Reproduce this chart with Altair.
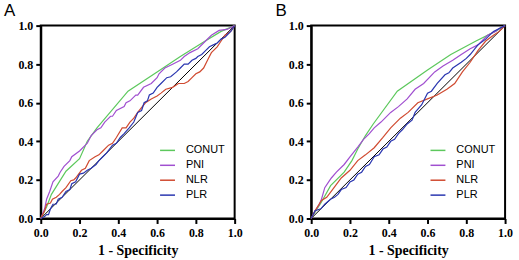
import altair as alt
import pandas as pd

markers = ["CONUT", "PNI", "NLR", "PLR"]
colors = ["#5cc85c", "#a04fd0", "#d04a30", "#2a36b0"]
tick_values = [0.0, 0.2, 0.4, 0.6, 0.8, 1.0]
diag_x = [0.0, 1.0]
diag_y = [0.0, 1.0]

# Panel A
a_conut_x = [0, 0.03, 0.055, 0.13, 0.2, 0.24, 0.29, 0.45, 0.6, 0.72, 0.84, 0.93, 1.0]
a_conut_y = [0, 0.06, 0.125, 0.245, 0.31, 0.40, 0.47, 0.66, 0.76, 0.84, 0.915, 0.97, 1.0]
a_pni_x = [0, 0.02, 0.03, 0.046, 0.063, 0.09, 0.1, 0.12, 0.15, 0.16, 0.2, 0.23, 0.24, 0.26, 0.29, 0.31, 0.33, 0.36, 0.37, 0.39,
           0.43, 0.44, 0.46, 0.49, 0.5, 0.53, 0.57, 0.6, 0.61, 0.64, 0.68, 0.72, 0.74, 0.77, 0.81, 0.85, 0.88, 0.92, 0.96, 1.0]
a_pni_y = [0, 0.05, 0.10, 0.14, 0.19, 0.22, 0.24, 0.27, 0.30, 0.32, 0.35, 0.38, 0.39, 0.43, 0.46, 0.47, 0.50, 0.53, 0.53, 0.56,
           0.58, 0.60, 0.61, 0.64, 0.64, 0.68, 0.70, 0.73, 0.75, 0.78, 0.80, 0.82, 0.84, 0.86, 0.88, 0.92, 0.95, 0.975, 0.98, 1.0]
a_nlr_x = [0, 0.02, 0.03, 0.05, 0.06, 0.08, 0.097, 0.11, 0.13, 0.155, 0.17, 0.18, 0.21, 0.23, 0.25, 0.28, 0.3,
           0.32, 0.35, 0.37, 0.39, 0.42, 0.44, 0.46, 0.48, 0.5, 0.54, 0.57, 0.6, 0.62, 0.645, 0.68, 0.71, 0.74,
           0.76, 0.78, 0.8, 0.82, 0.84, 0.86, 0.88, 0.91, 0.93, 0.95, 0.98, 1.0]
a_nlr_y = [0, 0.04, 0.074, 0.08, 0.10, 0.11, 0.125, 0.14, 0.16, 0.196, 0.20, 0.21, 0.25, 0.26, 0.30, 0.32, 0.33,
           0.35, 0.38, 0.39, 0.42, 0.47, 0.47, 0.50, 0.52, 0.55, 0.60, 0.62, 0.635, 0.65, 0.67, 0.68, 0.70, 0.70,
           0.71, 0.73, 0.75, 0.76, 0.78, 0.82, 0.86, 0.89, 0.92, 0.95, 0.97, 1.0]
a_plr_x = [0, 0.02, 0.03, 0.04, 0.05, 0.063, 0.08, 0.09, 0.11, 0.13, 0.15, 0.16, 0.18, 0.2, 0.22, 0.24, 0.26,
           0.285, 0.3, 0.32, 0.34, 0.37, 0.39, 0.41, 0.43, 0.456, 0.48, 0.5, 0.52, 0.533, 0.55, 0.56, 0.58, 0.6,
           0.62, 0.65, 0.67, 0.7, 0.72, 0.74, 0.76, 0.78, 0.8, 0.81, 0.83, 0.85, 0.87, 0.89, 0.91, 0.93, 0.95,
           0.96, 0.98, 1.0]
a_plr_y = [0, 0.01, 0.02, 0.02, 0.05, 0.074, 0.075, 0.10, 0.11, 0.14, 0.15, 0.18, 0.19, 0.23, 0.235, 0.25, 0.26,
           0.28, 0.30, 0.32, 0.34, 0.38, 0.39, 0.42, 0.44, 0.47, 0.50, 0.55, 0.56, 0.60, 0.61, 0.64, 0.65, 0.68,
           0.70, 0.73, 0.735, 0.76, 0.78, 0.80, 0.80, 0.82, 0.83, 0.84, 0.85, 0.87, 0.89, 0.90, 0.91, 0.93, 0.94,
           0.95, 0.97, 1.0]

# Panel B
b_conut_x = [0, 0.03, 0.05, 0.1, 0.17, 0.21, 0.24, 0.28, 0.32, 0.444, 0.6, 0.72, 0.85, 0.95, 1.0]
b_conut_y = [0, 0.05, 0.08, 0.17, 0.24, 0.30, 0.36, 0.43, 0.49, 0.66, 0.77, 0.85, 0.92, 0.97, 1.0]
b_pni_x = [0, 0.02, 0.04, 0.053, 0.07, 0.09, 0.104, 0.13, 0.17, 0.2, 0.24, 0.27, 0.3, 0.325, 0.36,
           0.41, 0.45, 0.495, 0.536, 0.58, 0.637, 0.68, 0.73, 0.774, 0.82, 0.86, 0.91, 0.95, 0.97, 1.0]
b_pni_y = [0, 0.04, 0.07, 0.10, 0.16, 0.19, 0.21, 0.24, 0.28, 0.32, 0.37, 0.41, 0.44, 0.47, 0.50,
           0.55, 0.58, 0.62, 0.67, 0.70, 0.76, 0.79, 0.82, 0.85, 0.88, 0.90, 0.95, 0.97, 0.985, 1.0]
b_nlr_x = [0, 0.02, 0.053, 0.08, 0.11, 0.155, 0.2, 0.24, 0.28, 0.325, 0.37, 0.41, 0.46, 0.5, 0.55,
           0.6, 0.65, 0.7, 0.74, 0.78, 0.82, 0.86, 0.9, 0.94, 0.97, 1.0]
b_nlr_y = [0, 0.04, 0.093, 0.11, 0.15, 0.21, 0.25, 0.30, 0.33, 0.367, 0.42, 0.47, 0.52, 0.55, 0.60,
           0.62, 0.64, 0.67, 0.70, 0.76, 0.81, 0.87, 0.92, 0.95, 0.97, 1.0]
b_plr_x = [0, 0.02, 0.05, 0.07, 0.1, 0.12, 0.138, 0.155, 0.18, 0.2, 0.22, 0.24, 0.26, 0.28, 0.3, 0.325, 0.35,
           0.37, 0.39, 0.41, 0.43, 0.45, 0.47, 0.495, 0.52, 0.536, 0.57, 0.6, 0.62, 0.65, 0.69, 0.71, 0.73,
           0.774, 0.8, 0.82, 0.86, 0.9, 0.94, 1.0]
b_plr_y = [0, 0.04, 0.05, 0.074, 0.10, 0.11, 0.125, 0.15, 0.16, 0.19, 0.20, 0.23, 0.24, 0.27, 0.28, 0.32, 0.33,
           0.36, 0.37, 0.40, 0.41, 0.44, 0.46, 0.49, 0.51, 0.55, 0.59, 0.65, 0.66, 0.70, 0.745, 0.755, 0.78,
           0.81, 0.83, 0.85, 0.90, 0.93, 0.97, 1.0]


def build(series):
    rows = []
    for name, xs, ys in series:
        for i, (x, y) in enumerate(zip(xs, ys)):
            rows.append({"marker": name, "x": x, "y": y, "i": i})
    return pd.DataFrame(rows)


df_a = build([("CONUT", a_conut_x, a_conut_y), ("PNI", a_pni_x, a_pni_y),
              ("NLR", a_nlr_x, a_nlr_y), ("PLR", a_plr_x, a_plr_y)])
df_b = build([("CONUT", b_conut_x, b_conut_y), ("PNI", b_pni_x, b_pni_y),
              ("NLR", b_nlr_x, b_nlr_y), ("PLR", b_plr_x, b_plr_y)])
df_diag = pd.DataFrame({"x": diag_x, "y": diag_y})

xscale = alt.Scale(domain=[0, 1], nice=False)
yscale = alt.Scale(domain=[0, 1], nice=False)

x_axis = alt.Axis(values=tick_values, format=".1f", title="1 - Specificity",
                  labelOverlap=False, labelFlush=False, labelBound=False, labelPadding=4)
y_axis = alt.Axis(values=tick_values, format=".1f", title=None,
                  labelOverlap=False, labelFlush=False, labelBound=False, labelPadding=3)


def panel(letter, df, dx):
    diag = alt.Chart(df_diag).mark_line(color="black", strokeWidth=1).encode(
        x=alt.X("x:Q", scale=xscale, axis=x_axis),
        y=alt.Y("y:Q", scale=yscale, axis=y_axis),
    )
    curves = alt.Chart(df).mark_line(strokeWidth=1.2).encode(
        x=alt.X("x:Q", scale=xscale, axis=x_axis),
        y=alt.Y("y:Q", scale=yscale, axis=y_axis),
        color=alt.Color("marker:N", scale=alt.Scale(domain=markers, range=colors),
                        legend=alt.Legend(title=None, orient="none", legendX=119, legendY=117)),
        order="i:Q",
    )
    return alt.layer(diag, curves).properties(
        width=195, height=194,
        title=alt.TitleParams(letter, anchor="start", frame="group", dx=dx, fontSize=17,
                              font="Liberation Sans", fontWeight="normal", color="black", offset=0),
    )


chart = alt.hconcat(panel("A", df_a, -37), panel("B", df_b, -36), spacing=77, bounds="flush").resolve_scale(
    color="independent"
).resolve_legend(color="independent").properties(
    padding={"left": 3, "top": 0, "right": 5, "bottom": 2}
).configure_view(stroke="black", strokeWidth=2).configure_axis(
    grid=False, domainColor="black", domainWidth=2, tickColor="black", tickWidth=2, tickSize=5,
    labelFont="Liberation Serif", labelFontWeight="bold", labelFontSize=12, labelColor="black",
    titleFont="Liberation Serif", titleFontWeight="bold", titleFontSize=14,
    titleColor="black", titlePadding=5,
).configure_legend(
    symbolType="stroke", symbolSize=225, symbolStrokeWidth=1.5, labelFont="Liberation Sans",
    labelFontSize=11, labelColor="black", labelOffset=10, rowPadding=1, padding=0,
)

chart.save("out.html", embed_options={"renderer": "svg", "actions": False})
